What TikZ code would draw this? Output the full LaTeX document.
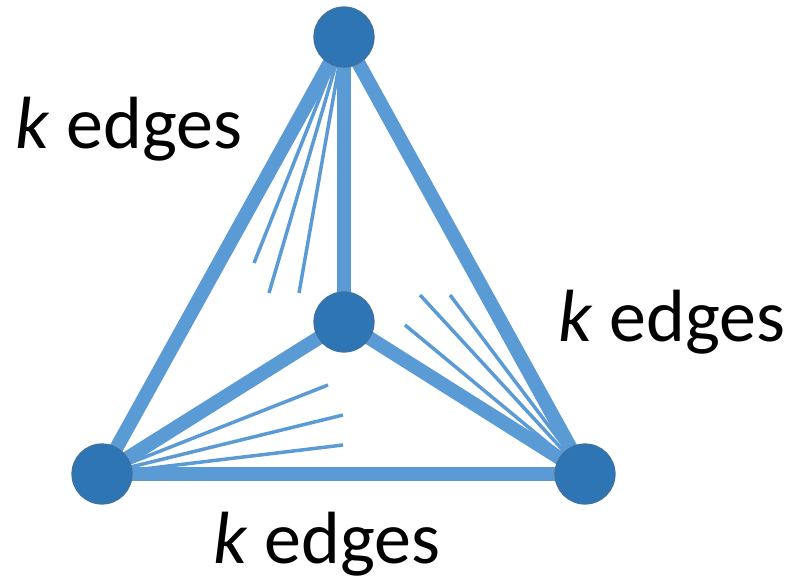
\documentclass[tikz,border=0pt]{standalone}
\usepackage{fontspec}
\setmainfont{Carlito}
\definecolor{edgeblue}{HTML}{5B9BD5}
\definecolor{nodeblue}{HTML}{2E75B6}
\definecolor{nodeborder}{HTML}{41719C}
\begin{document}
\begin{tikzpicture}[x=1pt,y=-1pt,
  vert/.style={circle,fill=nodeblue,draw=nodeborder,line width=1.2pt,minimum size=60pt,inner sep=0pt},
  thick edge/.style={draw=edgeblue,line width=14pt},
  thin edge/.style={draw=edgeblue,line width=3.5pt},
  lab/.style={anchor=base west,inner sep=0pt,font=\fontsize{74}{86}\selectfont}]
\useasboundingbox (0,0) rectangle (794,586);
\coordinate (T) at (344,37);
\coordinate (C) at (344,322);
\coordinate (L) at (102,474);
\coordinate (R) at (585,474);
% thin fan lines
\coordinate (t1) at (254,263);
\coordinate (t2) at (269,293);
\coordinate (t3) at (299,293);
\coordinate (r1) at (420,295);
\coordinate (r2) at (450,295);
\coordinate (r3) at (405,325);
\coordinate (l1) at (328,385);
\coordinate (l2) at (343,415);
\coordinate (l3) at (343,445);
\foreach \p in {t1,t2,t3} \draw[thin edge] (T) -- (\p);
\foreach \p in {r1,r2,r3} \draw[thin edge] (R) -- (\p);
\foreach \p in {l1,l2,l3} \draw[thin edge] (L) -- (\p);
% thick edges
\draw[thick edge] (T) -- (L);
\draw[thick edge] (T) -- (R);
\draw[thick edge] (L) -- (R);
\draw[thick edge] (T) -- (C);
\draw[thick edge] (C) -- (L);
\draw[thick edge] (C) -- (R);
% vertices
\node[vert] (vt) at (T) {};
\node[vert] (vc) at (C) {};
\node[vert] (vl) at (L) {};
\node[vert] (vr) at (R) {};
% labels
\node[lab] (lt) at (15,148) {\textit{k} edges};
\node[lab] (lr) at (558,341) {\textit{k} edges};
\node[lab] (lb) at (213,563) {\textit{k} edges};
\end{tikzpicture}
\end{document}
